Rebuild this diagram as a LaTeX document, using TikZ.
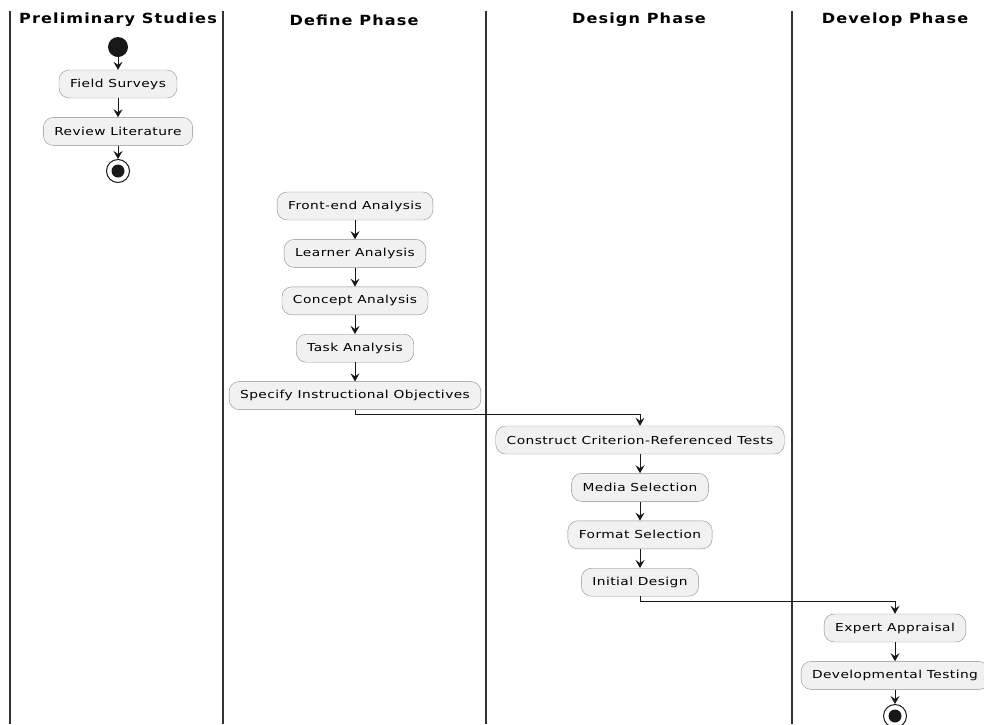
\documentclass[tikz,border=0pt]{standalone}
\usepackage{fontspec}
\setmainfont{DejaVu Sans}
\newfontfamily\actfont[FakeStretch=1.25,LetterSpace=4]{DejaVu Sans}
\newfontfamily\headfont[FakeStretch=1.15,LetterSpace=8]{DejaVu Sans}
\usepackage{xcolor}
\usetikzlibrary{arrows.meta,positioning}
\definecolor{umlFill}{RGB}{241,241,241}
\definecolor{umlBorder}{RGB}{140,140,140}
\definecolor{umlEdge}{RGB}{24,24,24}

\begin{document}
\begin{tikzpicture}[
    x=1pt,y=-1pt,
    act/.style={draw=umlBorder,fill=umlFill,rounded corners=10pt,minimum height=28pt,inner xsep=11pt,font=\actfont\fontsize{11}{13}\selectfont},
    lanehead/.style={font=\headfont\bfseries\fontsize{14}{17}\selectfont},
    laneline/.style={line width=1.4pt,color=black!80},
    arrow/.style={-{Stealth[length=8pt,width=9pt,inset=3pt]},umlEdge,line width=0.9pt},
    startdot/.style={circle,fill=umlEdge,minimum size=20pt,inner sep=0pt},
    stopdot/.style={circle,draw=umlEdge,line width=1pt,fill=white,minimum size=23pt,inner sep=0pt,
      path picture={\fill[umlEdge] (path picture bounding box.center) circle (6.5pt);}},
    node distance=19pt
  ]
    \useasboundingbox (0,0) rectangle (984,724);
    % swimlanes
    \foreach \x in {10,223,486,792}
      \draw[laneline] (\x,11) -- (\x,724);
    \node[lanehead] (hpre) at (118,20) {Preliminary Studies};
    \node[lanehead] (hdef) at (354,20) {Define Phase};
    \node[lanehead] (hdes) at (639,20) {Design Phase};
    \node[lanehead] (hdev) at (895,20) {Develop Phase};

    % preliminary studies
    \node[startdot] (start) at (118,47) {};
    \node[act] (field) at (118,84) {Field Surveys};
    \node[act,below=of field] (review) {Review Literature};
    \node[stopdot] (stopa) at (118,171) {};

    % define
    \node[act] (front) at (355,206) {Front-end Analysis};
    \node[act,below=of front] (learner) {Learner Analysis};
    \node[act,below=of learner] (concept) {Concept Analysis};
    \node[act,below=of concept] (task) {Task Analysis};
    \node[act,below=of task] (spec) {Specify Instructional Objectives};

    % design
    \node[act] (crit) at (640,440) {Construct Criterion-Referenced Tests};
    \node[act,below=of crit] (media) {Media Selection};
    \node[act,below=of media] (format) {Format Selection};
    \node[act,below=of format] (initial) {Initial Design};

    % develop
    \node[act] (expert) at (895,628) {Expert Appraisal};
    \node[act,below=of expert] (devtest) {Developmental Testing};
    \node[stopdot] (stopb) at (895,716) {};

    \draw[arrow] (start) -- (field);
    \draw[arrow] (field) -- (review);
    \draw[arrow] (review) -- (stopa);
    \draw[arrow] (front) -- (learner);
    \draw[arrow] (learner) -- (concept);
    \draw[arrow] (concept) -- (task);
    \draw[arrow] (task) -- (spec);
    \draw[arrow] (spec.south) -- ++(0,5) -| (crit.north);
    \draw[arrow] (crit) -- (media);
    \draw[arrow] (media) -- (format);
    \draw[arrow] (format) -- (initial);
    \draw[arrow] (initial.south) -- ++(0,5) -| (expert.north);
    \draw[arrow] (expert) -- (devtest);
    \draw[arrow] (devtest) -- (stopb);
  \end{tikzpicture}
\end{document}
